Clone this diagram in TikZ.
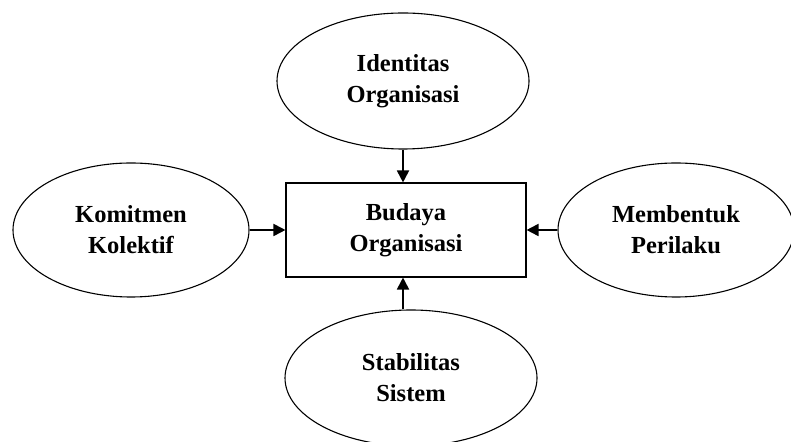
\documentclass[tikz,border=0pt]{standalone}
\usepackage{fontspec}
\setmainfont{Liberation Serif}
\usetikzlibrary{shapes.geometric,arrows.meta}

\tikzset{
	oval/.style={draw=black, ellipse, line width=0.55pt, minimum width=126pt, minimum height=68pt, align=center, font=\fontsize{12.25}{15.5}\selectfont\bfseries},
	kotak/.style={draw=black, rectangle, line width=0.55pt, minimum width=120pt, minimum height=47pt, align=center, font=\fontsize{12.25}{15.5}\selectfont\bfseries},
	panah/.style={line width=0.9pt, -{Triangle[length=6pt, width=6pt]}}
}

\begin{document}
\begin{tikzpicture}[x=0.5pt, y=-0.5pt]
			\useasboundingbox (0,0) rectangle (791,442);
			% pusat
			\node [kotak] (budaya) at (406,230) {Budaya\\Organisasi};
			% elips sekeliling
			\node [oval] (identitas) at (403,81) {Identitas\\Organisasi};
			\node [oval, minimum width=118pt, minimum height=67pt] (komitmen) at (131,230) {Komitmen\\Kolektif};
			\node [oval, minimum width=118pt, minimum height=67pt] (perilaku) at (676,230) {Membentuk\\Perilaku};
			\node [oval] (stabilitas) at (411,378) {Stabilitas\\Sistem};
			% panah
			\draw [panah] (identitas.south) -- (identitas.south |- budaya.north);
			\draw [panah] (komitmen.east) -- (budaya.west);
			\draw [panah] (perilaku.west) -- (budaya.east);
			\draw [panah] (identitas.south |- stabilitas.north) -- (identitas.south |- budaya.south);
		\end{tikzpicture}
\end{document}
